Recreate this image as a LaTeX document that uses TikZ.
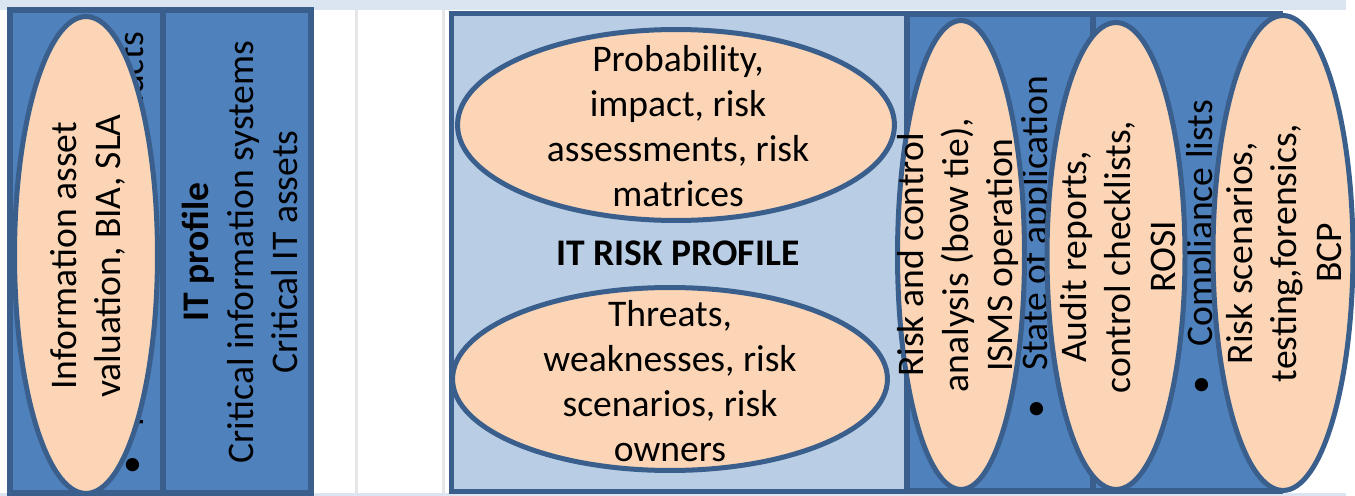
\documentclass[tikz,border=0pt]{standalone}
\usepackage{fontspec}
\setmainfont{Carlito}
\usepackage{tikz}
\usetikzlibrary{shapes.geometric}
\definecolor{band}{HTML}{DBE5F1}
\definecolor{seprule}{HTML}{E6E6E6}
\definecolor{panel}{HTML}{4F81BD}
\definecolor{boxline}{HTML}{3A5F8C}
\definecolor{pale}{HTML}{B9CDE5}
\definecolor{peach}{HTML}{FBD5B5}
\newcommand{\bigtext}{\fontsize{21.4}{25.5}\selectfont}
\tikzset{
  panelbox/.style={draw=boxline, fill=panel, line width=0.11cm},
  palebox/.style={panelbox, fill=pale, line width=0.1cm},
  oval/.style={ellipse, draw=boxline, fill=peach, line width=0.1cm, inner sep=0pt},
  lab/.style={font=\bigtext, align=center, inner sep=0pt},
  labr/.style={lab, rotate=90},
  item/.style={font=\bigtext, inner sep=0pt, rotate=90, anchor=west},
}
\begin{document}
\begin{tikzpicture}[x=0.02cm, y=-0.02cm]
  \useasboundingbox (0,0) rectangle (1355,496);
  % frame of the slide
  \fill[band] (0,0) rectangle (1346,10);
  \fill[band] (0,493) rectangle (1346,496);
  \fill[seprule] (355,10) rectangle (358,493);
  \fill[seprule] (442,10) rectangle (445,493);
  % panels
  \draw[panelbox] (10,10) rectangle (163,493);
  \draw[panelbox] (163,10) rectangle (311,493);
  \draw[palebox] (451,14) rectangle (907,491);
  \draw[panelbox] (907,14) rectangle (1093,491);
  \draw[panelbox] (1093,14) rectangle (1280,491);
  % panel texts
  \node[item] (assetitem) at (133,475) {\makebox[0.96cm][l]{\textbullet}Processes and IT products};
  \node[labr] (itprofile) at (240,252) {\textbf{IT profile}\\Critical information systems\\Critical IT assets};
  \node[lab, font=\bigtext\bfseries] (risktitle) at (678,253) {IT RISK PROFILE};
  \node[item] (stateitem) at (1037,419) {\makebox[0.96cm][l]{\textbullet}State of application};
  \node[item] (complyitem) at (1202,395) {\makebox[0.96cm][l]{\textbullet}Compliance lists};
  % ovals
  \node[oval, minimum width=2.86cm, minimum height=9.54cm] (assetoval) at (86,255) {};
  \node[oval, minimum width=8.74cm, minimum height=3.82cm] (proboval) at (676,125) {};
  \node[oval, minimum width=8.70cm, minimum height=3.66cm] (threatoval) at (670,379) {};
  \node[oval, minimum width=2.54cm, minimum height=9.38cm] (bowoval) at (961,255) {};
  \node[oval, minimum width=2.76cm, minimum height=9.34cm] (auditoval) at (1116,256) {};
  \node[oval, minimum width=2.80cm, minimum height=9.50cm] (bcpoval) at (1283,253) {};
  % oval texts
  \node[labr] (assettext) at (88,256) {Information asset\\valuation, BIA, SLA};
  \node[lab] (probtext) at (678,126) {Probability,\\impact, risk\\assessments, risk\\matrices};
  \node[lab] (threattext) at (670,381) {Threats,\\weaknesses, risk\\scenarios, risk\\owners};
  \node[labr] (bowtext) at (958,255) {Risk and control\\analysis (bow tie),\\ISMS operation};
  \node[labr] (audittext) at (1118,257) {Audit reports,\\control checklists,\\ROSI};
  \node[labr] (bcptext) at (1284,253) {Risk scenarios,\\testing,forensics,\\BCP};
\end{tikzpicture}
\end{document}
